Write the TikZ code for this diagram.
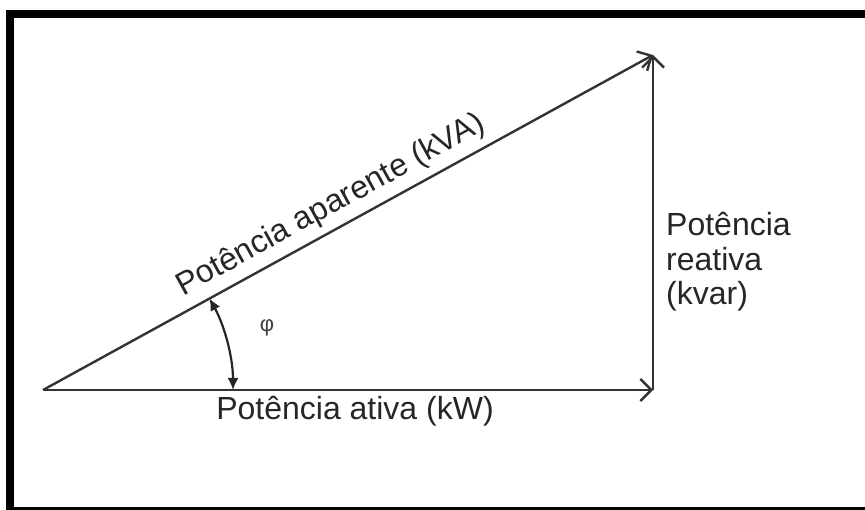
\documentclass[tikz,border=0pt]{standalone}
\usepackage{fontspec}
\setmainfont{Liberation Sans}
\usetikzlibrary{arrows.meta,positioning}

\begin{document}
\begin{tikzpicture}[
  x=1pt,y=-1pt,
  frame/.style={line width=8pt,draw=black},
  vec/.style={-{Straight Barb[length=11pt,width=22pt]},line width=2.4pt,draw=black!80},
  anglearc/.style={{Latex[length=12pt,width=11pt]}-{Latex[length=12pt,width=11pt]},line width=2.2pt,draw=black!85},
  lbl/.style={font=\fontsize{32}{34.5}\selectfont,text=black!85,inner sep=2pt},
  greek/.style={font=\fontsize{22}{26}\selectfont,text=black!75}
]
\clip (0,0) rectangle (865,510);
\fill[white] (0,0) rectangle (865,510);
\draw[frame] (10,14) rectangle (875,511);

% vertices of the power triangle
\coordinate (origin) at (43,390);
\coordinate (corner) at (653,390);
\coordinate (apex) at (653,55);
\coordinate (arcbot) at (233,390);

\draw[vec] (origin) -- (corner);
\draw[vec] (corner) -- (apex);
\draw[vec] (origin) -- node[lbl,sloped,above=5pt,pos=0.49] (kva) {Potência aparente (kVA)} (apex);

\node[lbl] (kw) at (355,411) {Potência ativa (kW)};
\node[lbl,align=left,anchor=west] (kvar) at (664,262) {Potência\\reativa\\(kvar)};

\draw[anglearc] (arcbot) arc[start angle=0,end angle=-28.8,radius=190];
\node[greek] (phi) at (267,328) {φ};
\end{tikzpicture}
\end{document}
